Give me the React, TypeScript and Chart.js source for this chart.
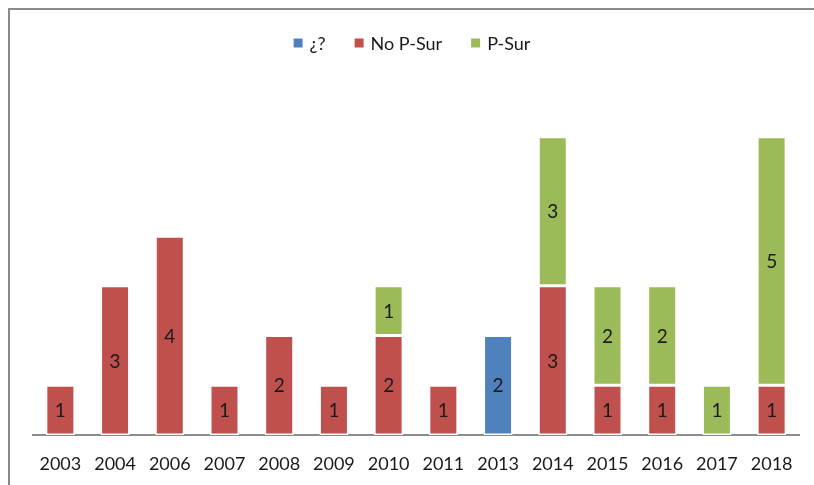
import React, { useEffect, useRef } from "react";
import { Chart, registerables } from "chart.js";
Chart.register(...registerables);

const years = ["2003", "2004", "2006", "2007", "2008", "2009", "2010", "2011", "2013", "2014", "2015", "2016", "2017", "2018"];
const unknown = [0, 0, 0, 0, 0, 0, 0, 0, 2, 0, 0, 0, 0, 0];
const noPSur = [1, 3, 4, 1, 2, 1, 2, 1, 0, 3, 1, 1, 0, 1];
const pSur = [0, 0, 0, 0, 0, 0, 1, 0, 0, 3, 2, 2, 1, 5];

const FONT = "Lato, Calibri, 'Open Sans', sans-serif";

const labelPlugin = {
  id: "segLabels",
  afterDatasetsDraw(chart: any) {
    const ctx = chart.ctx;
    ctx.save();
    ctx.font = `19px ${FONT}`;
    ctx.fillStyle = "#1a1a1a";
    ctx.textAlign = "center";
    ctx.textBaseline = "middle";
    chart.data.datasets.forEach((ds: any, i: number) => {
      const meta = chart.getDatasetMeta(i);
      meta.data.forEach((el: any, j: number) => {
        const v = ds.data[j];
        if (!v) return;
        const { x, y, base } = el.getProps(["x", "y", "base"], true);
        ctx.fillText(String(v), x, (y + base) / 2 + 1);
      });
    });
    ctx.restore();
  },
  afterDraw(chart: any) {
    const ctx = chart.ctx;
    ctx.save();
    ctx.font = `18px ${FONT}`;
    ctx.textBaseline = "middle";
    ctx.textAlign = "left";
    const box = 9, gap = 7, sep = 29;
    const items = chart.data.datasets.map((ds: any) => ({
      label: ds.label,
      color: ds.backgroundColor,
      w: box + gap + ctx.measureText(ds.label).width,
    }));
    const total = items.reduce((a: number, it: any) => a + it.w, 0) + sep * (items.length - 1);
    let x = chart.width / 2 - total / 2;
    const cy = 33;
    items.forEach((it: any) => {
      ctx.fillStyle = it.color;
      ctx.fillRect(x, cy - box / 2, box, box);
      ctx.fillStyle = "#1a1a1a";
      ctx.fillText(it.label, x + box + gap, cy + 1);
      x += it.w + sep;
    });
    ctx.restore();
  },
};

export default function App() {
  const ref = useRef<HTMLCanvasElement>(null);
  useEffect(() => {
    document.body.style.margin = "8px 0 0 8px";
    document.body.style.overflow = "hidden";
    const chart = new Chart(ref.current!, {
      type: "bar",
      data: {
        labels: years,
        datasets: [
          { label: "¿?", data: unknown, backgroundColor: "#4F81BD", borderColor: "#ffffff", borderWidth: 1.5, borderSkipped: false },
          { label: "No P-Sur", data: noPSur, backgroundColor: "#C0504D", borderColor: "#ffffff", borderWidth: 1.5, borderSkipped: false },
          { label: "P-Sur", data: pSur, backgroundColor: "#9BBB59", borderColor: "#ffffff", borderWidth: 1.5, borderSkipped: false },
        ],
      },
      options: {
        animation: false,
        responsive: false,
        maintainAspectRatio: false,
        datasets: { bar: { barPercentage: 0.53, categoryPercentage: 1 } },
        layout: { padding: { left: 23, right: 15, top: 77, bottom: 0 } },
        plugins: {
          tooltip: { enabled: false },
          legend: { display: false },
        },
        scales: {
          x: {
            stacked: true,
            grid: { display: false },
            border: { color: "#8c8c8c", width: 2 },
            ticks: { font: { family: FONT, size: 18 }, color: "#1a1a1a", padding: 10, maxRotation: 0 },
            afterFit(s: any) { s.height = 50; },
          },
          y: { stacked: true, display: false, min: 0, max: 7 },
        },
      },
      plugins: [labelPlugin],
    });
    return () => chart.destroy();
  }, []);
  return (
    <div style={{ width: 806, height: 477, borderTop: "2px solid #8a8a8a", borderLeft: "2px solid #8a8a8a", boxSizing: "border-box" }}>
      <canvas ref={ref} width={804} height={475} style={{ display: "block" }} />
    </div>
  );
}
